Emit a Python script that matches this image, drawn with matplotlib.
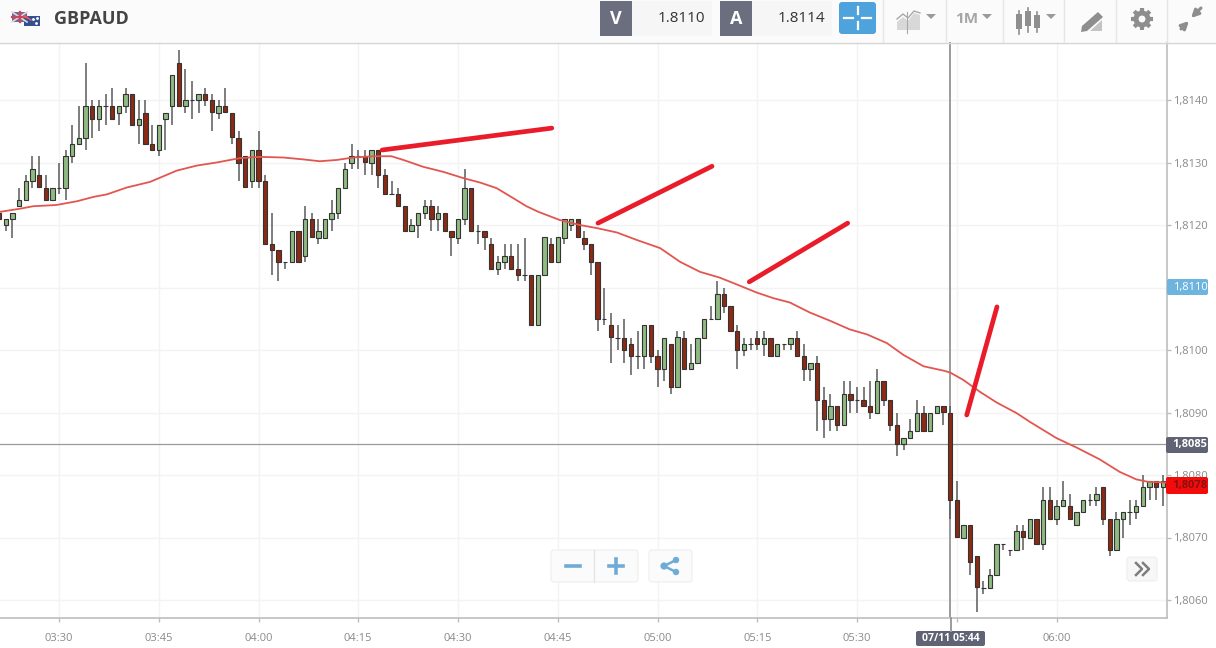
import matplotlib
matplotlib.use("Agg")
import matplotlib.pyplot as plt
import numpy as np
from matplotlib.patches import Circle, FancyBboxPatch, Polygon, Rectangle

plt.rcParams["font.family"] = ["Open Sans", "DejaVu Sans"]

# candles, one per minute, first one is 03:21. values are pips above 1.8000
first_minute = -9  # minutes from 03:30
opens = [122, 120, 121, 123, 124, 127, 128, 126, 124, 126,
         126, 131, 133, 134, 139, 137, 139, 139, 138, 139,
         141, 136, 138, 133, 132, 137, 139, 146, 139, 140,
         140, 141, 140, 138, 139, 138, 134, 131, 127, 132,
         127, 117, 116, 114, 114, 119, 115, 121, 118, 118,
         121, 122, 126, 130, 131, 131, 130, 132, 128, 125,
         125, 123, 119, 120, 122, 123, 121, 122, 119, 118,
         121, 126, 119, 119, 117, 113, 114, 115, 113, 112,
         112, 104, 112, 117, 114, 118, 120, 121, 118, 117,
         114, 105, 104, 102, 102, 101, 99, 99, 104, 99,
         97, 101, 94, 102, 97, 98, 102, 105, 105, 109,
         107, 103, 100, 101, 102, 101, 102, 99, 101, 101,
         102, 99, 97, 98, 92, 89, 91, 88, 93, 92,
         92, 91, 90, 95, 92, 88, 85, 86, 87, 90,
         87, 90, 91, 90, 76, 70, 72, 67, 62, 62,
         64, 69, 68, 68, 71, 70, 73, 69, 76, 73,
         75, 75, 72, 74, 76, 76, 78, 73, 68, 73,
         74, 74, 75, 78, 79, 78]
highs = [123, 121, 122, 126, 128, 131, 131, 128, 126, 130,
         132, 136, 139, 146, 140, 140, 141, 142, 139, 142,
         141, 140, 140, 136, 136, 138, 144, 148, 145, 143,
         141, 142, 141, 140, 142, 138, 135, 131, 132, 135,
         128, 122, 116, 114, 119, 119, 123, 122, 121, 121,
         124, 126, 130, 133, 132, 132, 132, 132, 129, 127,
         126, 123, 121, 122, 124, 124, 123, 122, 119, 121,
         129, 126, 120, 119, 118, 115, 117, 117, 117, 118,
         112, 112, 118, 118, 118, 121, 121, 121, 119, 117,
         114, 110, 106, 104, 105, 102, 103, 104, 104, 100,
         102, 101, 103, 103, 101, 102, 105, 107, 111, 110,
         107, 104, 102, 102, 103, 103, 102, 101, 101, 102,
         103, 101, 98, 99, 94, 93, 91, 95, 95, 94,
         94, 95, 97, 95, 92, 90, 86, 89, 92, 91,
         90, 91, 91, 91, 79, 72, 72, 67, 63, 65,
         69, 69, 68, 72, 72, 73, 73, 78, 78, 76,
         79, 77, 74, 76, 77, 78, 78, 73, 74, 74,
         76, 76, 80, 79, 79, 80]
lows = [120, 119, 118, 123, 124, 126, 126, 124, 124, 125,
        124, 130, 133, 132, 134, 135, 136, 137, 136, 138,
        136, 133, 133, 132, 131, 132, 136, 139, 138, 137,
        138, 139, 135, 137, 138, 133, 127, 126, 126, 126,
        117, 112, 111, 113, 114, 114, 114, 118, 117, 118,
        119, 121, 126, 129, 129, 128, 128, 126, 125, 125,
        123, 119, 119, 118, 121, 119, 119, 119, 115, 117,
        120, 119, 117, 116, 113, 112, 113, 113, 111, 111,
        104, 104, 112, 114, 114, 117, 119, 118, 116, 112,
        103, 104, 98, 100, 98, 96, 97, 97, 98, 94,
        95, 93, 94, 97, 97, 98, 102, 105, 105, 106,
        103, 97, 99, 100, 100, 99, 99, 99, 100, 100,
        99, 95, 95, 87, 86, 87, 87, 88, 90, 90,
        91, 89, 90, 91, 87, 83, 84, 86, 87, 87,
        87, 90, 88, 73, 70, 70, 64, 58, 61, 62,
        64, 68, 67, 68, 68, 70, 69, 68, 73, 72,
        75, 73, 72, 74, 75, 75, 72, 67, 68, 70,
        72, 73, 75, 76, 76, 75]
closes = [121, 121, 122, 124, 127, 129, 126, 124, 126, 126,
          131, 133, 134, 139, 137, 139, 139, 137, 139, 141,
          136, 137, 133, 132, 136, 138, 144, 139, 140, 140,
          141, 140, 138, 139, 138, 134, 130, 126, 132, 127,
          117, 116, 114, 114, 119, 114, 121, 118, 119, 121,
          122, 126, 129, 131, 131, 130, 132, 128, 125, 125,
          123, 119, 120, 122, 123, 121, 122, 119, 118, 121,
          126, 119, 119, 118, 113, 114, 115, 113, 112, 112,
          104, 112, 118, 114, 118, 121, 121, 118, 117, 114,
          105, 105, 102, 102, 100, 99, 99, 104, 99, 97,
          102, 94, 102, 97, 98, 102, 105, 105, 109, 107,
          103, 100, 101, 101, 101, 102, 99, 101, 101, 102,
          99, 97, 98, 92, 89, 91, 88, 93, 92, 92,
          91, 90, 95, 92, 88, 85, 86, 87, 90, 87,
          90, 91, 90, 76, 70, 72, 66, 62, 62, 64,
          69, 69, 68, 71, 70, 73, 69, 76, 73, 75,
          76, 73, 74, 76, 76, 77, 73, 68, 73, 74,
          74, 75, 78, 79, 78, 79]

# moving average
ma_minutes = [-8.9, -5.9, -3.9, -0.4, 2.7, 5.2, 7.2, 10.2, 13.7, 15.7, 17.7, 20.7, 23.7, 27.2,
              30.2, 33.7, 36.7, 39.2, 41.7, 44.3, 47.3, 50.0, 51.8, 54.8, 57.8, 60.8, 63.3,
              65.8, 68.3, 70.3, 72.1, 75.3, 78.3, 80.9, 83.9, 86.9, 90.4, 93.4, 96.4, 99.3,
              101.9, 104.9, 107.4, 109.9, 112.9, 115.9, 118.9, 121.5, 124.5, 127.0, 130.0,
              133.0, 134.0, 136.0, 138.5, 141.0, 144.0, 146.0, 148.0, 150.0, 153.0, 156.5,
              159.5, 162.0, 163.8, 166.5]
ma_values = [122.1, 122.6, 123.0, 123.2, 123.8, 124.5, 124.9, 126.0, 126.9, 127.8, 128.7, 129.5,
             130.0, 130.7, 130.9, 130.8, 130.5, 130.2, 130.4, 130.8, 131.0, 131.0, 130.4, 129.3,
             128.5, 127.5, 126.8, 125.9, 124.3, 123.0, 122.1, 120.8, 120.0, 119.5, 118.8, 117.6,
             116.3, 114.1, 112.5, 111.6, 110.5, 109.2, 108.3, 107.6, 106.0, 104.7, 103.3, 102.5,
             101.1, 99.2, 97.4, 96.7, 96.4, 95.2, 93.3, 91.6, 89.9, 88.5, 87.2, 85.9, 84.4, 82.5,
             80.5, 79.3, 78.9, 78.8]

# hand drawn red strokes: minute start, minute end, pips start, pips end
strokes = [(48.6, 74.1, 132.0, 135.5), (81.05, 98.2, 120.3, 129.4),
           (103.8, 118.6, 110.9, 120.3), (136.5, 141.05, 89.6, 106.9)]

time_ticks = [0, 15, 30, 45, 60, 75, 90, 105, 120, 135, 150]
time_labels = ["03:30", "03:45", "04:00", "04:15", "04:30", "04:45", "05:00", "05:15", "05:30", "", "06:00"]
price_ticks = [1.8060, 1.8070, 1.8080, 1.8090, 1.8100, 1.8110, 1.8120, 1.8130, 1.8140]
# 1,8110 sits under the blue price flag, which carries the same text
price_labels = ["1,8060", "1,8070", "1,8080", "1,8090", "1,8100", "", "1,8120", "1,8130", "1,8140"]


def to_price(pips):
    return 1.8 + np.asarray(pips) / 10000


W, H = 1216, 648
fig = plt.figure(figsize=(W / 100, H / 100), dpi=100, facecolor="white")

# chart area runs x 0-1167, y 42-618 in pixels
ax = fig.add_axes([0, (H - 618) / H, 1167 / W, 576 / H])
ax.set_xlim((0 - 59) / 6.65, (1167 - 59) / 6.65)
ax.set_ylim(to_price(57.12), to_price(149.28))

for s in ["top", "left"]:
    ax.spines[s].set_visible(False)
for s in ["right", "bottom"]:
    ax.spines[s].set_color("#bdbdbd")
    ax.spines[s].set_linewidth(1.2)
ax.yaxis.tick_right()
ax.set_xticks(time_ticks)
ax.set_xticklabels(time_labels)
ax.set_yticks(price_ticks)
ax.set_yticklabels(price_labels)
ax.tick_params(axis="both", color="#bdbdbd", length=3, width=1, labelcolor="#8a8a8a", labelsize=8, pad=1.5)
ax.tick_params(axis="x", pad=8)
ax.grid(True, color="#f3f3f3", linewidth=1)
ax.set_axisbelow(True)

# crosshair goes under the candles
ax.axhline(to_price(85), color="#9a9a9a", linewidth=0.9, zorder=1)
ax.axvline(134, color="#9c9c9c", linewidth=1.4, zorder=1)

minutes = first_minute + np.arange(len(opens))
o, h, l, c = to_price(opens), to_price(highs), to_price(lows), to_price(closes)
colors = ["#8fba82" if cc >= oo else "#8c2a14" for oo, cc in zip(opens, closes)]

ax.vlines(minutes, l, h, color="#5a5a5a", linewidth=1.1, zorder=2)
ax.bar(minutes, c - o, bottom=o, width=0.66, color=colors, edgecolor="#333333", linewidth=0.8, zorder=3)
ax.plot(ma_minutes, to_price(ma_values), color="#e2564f", linewidth=1.3, zorder=4)

for x0, x1, p0, p1 in strokes:
    ax.plot([x0, x1], to_price([p0, p1]), color="#ea1c2a", linewidth=3.4, solid_capstyle="round", zorder=6)

# everything else is the app's chrome, laid over in pixel coordinates
ui = fig.add_axes([0, 0, 1, 1], facecolor="none")
ui.set_xlim(0, W)
ui.set_ylim(H, 0)
ui.axis("off")
ui.set_zorder(10)

DARK = "#5f6373"
ICON = "#8e8e8e"


def box(x0, y0, x1, y1, color, edge="none", radius=2, **kw):
    ui.add_patch(FancyBboxPatch((x0 + radius, y0 + radius), x1 - x0 - 2 * radius, y1 - y0 - 2 * radius,
                                boxstyle=f"round,pad={radius}", facecolor=color, edgecolor=edge,
                                linewidth=kw.pop("lw", 0.8), **kw))


ui.plot([951, 951], [618, 631], color="#9c9c9c", linewidth=1.4)

# header strip
ui.add_patch(Rectangle((0, 0), W, 42, facecolor="#fbfbfb", edgecolor="none"))
ui.plot([0, W], [42.5, 42.5], color="#d5d5d5", linewidth=1)
ui.text(54, 19, "GBPAUD", fontsize=13, fontweight="bold", color="#444444", va="center", ha="left")

# flags
ui.add_patch(Rectangle((12, 12), 15, 10, facecolor="#6f6a9c", edgecolor="none"))
ui.plot([12, 27], [12, 22], color="#e8d8dc", linewidth=1.2)
ui.plot([12, 27], [22, 12], color="#e8d8dc", linewidth=1.2)
ui.plot([19.5, 19.5], [12, 22], color="#c9485b", linewidth=1.6)
ui.plot([12, 27], [17, 17], color="#c9485b", linewidth=1.6)
ui.add_patch(Rectangle((24, 16), 16, 10, facecolor="#36508f", edgecolor="none"))
ui.plot([24, 31], [16, 20], color="#d66", linewidth=1)
ui.plot([33, 36, 37], [19, 23, 18], linestyle="none", marker=".", markersize=2, color="white")

# bid / ask
box(632, 1, 712, 36, "#f6f6f6")
box(752, 1, 832, 36, "#f6f6f6")
ui.add_patch(Rectangle((600, 1), 32, 35, facecolor="#6a6e7f"))
ui.add_patch(Rectangle((720, 1), 32, 35, facecolor="#6a6e7f"))
ui.text(616, 19, "V", color="white", fontsize=13, fontweight="bold", ha="center", va="center")
ui.text(736, 19, "A", color="white", fontsize=13, fontweight="bold", ha="center", va="center")
ui.text(705, 19, "1.8110", color="#333333", fontsize=11, ha="right", va="center")
ui.text(825, 19, "1.8114", color="#333333", fontsize=11, ha="right", va="center")

box(839, 2, 876, 34, "#4fa3dc", radius=3)
for a, b in [((844, 18), (853, 18)), ((862, 18), (871, 18)), ((857.5, 7), (857.5, 14)), ((857.5, 22), (857.5, 29))]:
    ui.plot([a[0], b[0]], [a[1], b[1]], color="white", linewidth=1.6)

for sx in [883, 946, 1003, 1064, 1116, 1167]:
    ui.plot([sx, sx], [0, 42], color="#e6e6e6", linewidth=1)

# area chart icon
ui.add_patch(Polygon([(897, 30), (897, 22), (903, 17), (908, 21), (914, 13), (920, 15), (920, 30)], facecolor="#d8d8d8"))
ui.plot([897, 903, 908, 914, 920], [19, 14, 18, 11, 13], color="#a8a8a8", linewidth=1)
ui.plot([907, 907], [12, 33], color="#a8a8a8", linewidth=0.8)
for ax_x in [931, 987, 1051]:
    ui.add_patch(Polygon([(ax_x - 5, 14), (ax_x + 5, 14), (ax_x, 19)], facecolor="#9a9a9a"))
ui.text(967, 19, "1M", color="#a6a6a6", fontsize=11, fontweight="bold", ha="center", va="center")

# candle icon
for cx, top, bot, wt, wb in [(1019, 14, 29, 11, 34), (1028, 11, 26, 8, 32), (1037, 15, 28, 12, 32)]:
    ui.plot([cx, cx], [wt, wb], color=ICON, linewidth=1.2)
    ui.add_patch(Rectangle((cx - 3, top), 6, bot - top, facecolor=ICON))

# pen icon
ui.add_patch(Polygon([(1082, 26), (1098, 12), (1103, 17), (1087, 31), (1081, 32)], facecolor=ICON))
ui.add_patch(Polygon([(1090, 31), (1102, 20), (1102, 31)], facecolor="#c4c4c4"))

# gear
ui.add_patch(Circle((1142, 19), 6, facecolor="none", edgecolor=ICON, linewidth=3.6))
for ang in np.arange(0, 360, 45):
    dx, dy = np.cos(np.radians(ang)), np.sin(np.radians(ang))
    ui.plot([1142 + 7 * dx, 1142 + 11 * dx], [19 + 7 * dy, 19 + 11 * dy], color=ICON, linewidth=3, solid_capstyle="butt")

# compress arrows
for start, end in [((1201, 8), (1191, 18)), ((1181, 29), (1189, 21))]:
    ui.annotate("", xy=end, xytext=start,
                arrowprops=dict(arrowstyle="-|>", color=ICON, linewidth=2.2, mutation_scale=11, shrinkA=0, shrinkB=0))

# price flags on the axis
box(1167, 279, 1208, 295, "#6db5de")
ui.text(1190, 287.5, "1,8110", color="white", fontsize=8, ha="center", va="center")
box(1166, 437, 1208, 453, DARK)
ui.text(1190, 445, "1,8085", color="white", fontsize=8, fontweight="bold", ha="center", va="center")
box(1166, 477, 1208, 494, "#f40c0c")
ui.text(1190, 485.5, "1,8078", color="#8a1010", fontsize=8, fontweight="bold", ha="center", va="center")
box(916, 631, 985, 646, DARK)
ui.text(950.5, 638.5, "07/11 05:44", color="white", fontsize=7.5, fontweight="bold", ha="center", va="center")

# zoom buttons
BLUE = "#6fabd6"
box(551, 550, 638, 582, "#fbfbfb", edge="#eeeeee", radius=3)
ui.plot([594, 594], [550, 582], color="#e4e4e4", linewidth=1)
ui.plot([566, 580], [566, 566], color=BLUE, linewidth=2.6)
ui.plot([609, 623], [566, 566], color=BLUE, linewidth=2.6)
ui.plot([616, 616], [559, 573], color=BLUE, linewidth=2.6)
box(649, 550, 692, 582, "#fbfbfb", edge="#eeeeee", radius=3)
ui.plot([676, 664, 676], [560, 566, 572], color=BLUE, linewidth=1.8)
for px, py, rad in [(676, 560, 3.2), (664, 566, 3.6), (676, 572, 3.2)]:
    ui.add_patch(Circle((px, py), rad, facecolor=BLUE))

box(1127, 557, 1157, 581, "#f7f7f7", edge="#eeeeee", radius=3)
for dx in [0, 7]:
    ui.plot([1136 + dx, 1142 + dx, 1136 + dx], [563, 569, 575], color="#7d7d7d", linewidth=1.8)

fig.savefig("out.png", dpi=100)
